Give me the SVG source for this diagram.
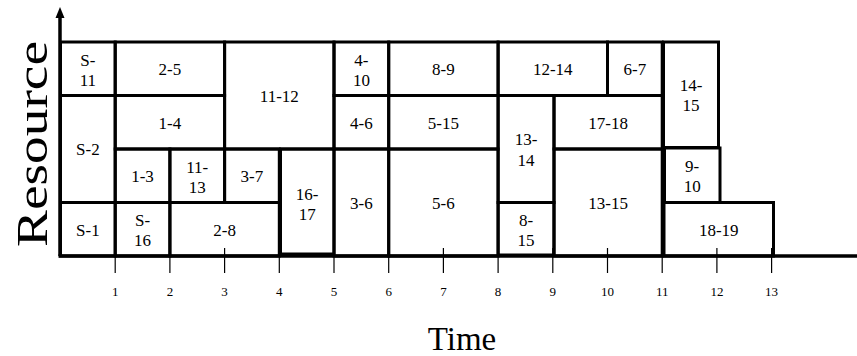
<svg xmlns="http://www.w3.org/2000/svg" width="857" height="356" viewBox="0 0 857 356" font-family="'Liberation Serif', serif">
<style>
.b{fill:none;stroke:#000;stroke-width:3}
.t{font-family:'Liberation Serif',serif;font-size:17px;text-anchor:middle;fill:#000}
.k{font-family:'Liberation Serif',serif;font-size:13px;text-anchor:middle;fill:#000}
.tk{stroke:#000;stroke-width:1.2}
.ax{stroke:#000;stroke-width:3.5;fill:none}
</style>
<rect width="857" height="356" fill="#fff"/>
<g id="nodes">
<g id="n-s11"><rect class="b" x="60.5" y="42" width="54.7" height="53.5"/><text class="t" x="87.9" y="66">S-</text><text class="t" x="87.9" y="86">11</text></g>
<g id="n-2-5"><rect class="b" x="115.2" y="42" width="109.4" height="53.5"/><text class="t" x="169.9" y="75">2-5</text></g>
<g id="n-11-12"><rect class="b" x="224.6" y="42" width="109.4" height="107"/><text class="t" x="279.3" y="101.5">11-12</text></g>
<g id="n-4-10"><rect class="b" x="334" y="42" width="54.7" height="53.5"/><text class="t" x="361.4" y="66">4-</text><text class="t" x="361.4" y="86">10</text></g>
<g id="n-8-9"><rect class="b" x="388.7" y="42" width="109.4" height="53.5"/><text class="t" x="443.4" y="75">8-9</text></g>
<g id="n-12-14"><rect class="b" x="498.1" y="42" width="109.4" height="53.5"/><text class="t" x="552.8" y="75">12-14</text></g>
<g id="n-6-7"><rect class="b" x="607.5" y="42" width="54.7" height="53.5"/><text class="t" x="634.9" y="75">6-7</text></g>
<g id="n-14-15"><rect class="b" x="663.5" y="42" width="55" height="105.5"/><text class="t" x="691" y="91">14-</text><text class="t" x="691" y="111">15</text></g>
<g id="n-s2"><rect class="b" x="60.5" y="95.5" width="54.7" height="107"/><text class="t" x="87.9" y="155">S-2</text></g>
<g id="n-1-4"><rect class="b" x="115.2" y="95.5" width="109.4" height="53.5"/><text class="t" x="169.9" y="128.5">1-4</text></g>
<g id="n-4-6"><rect class="b" x="334" y="95.5" width="54.7" height="53.5"/><text class="t" x="361.4" y="128.5">4-6</text></g>
<g id="n-5-15"><rect class="b" x="388.7" y="95.5" width="109.4" height="53.5"/><text class="t" x="443.4" y="128.5">5-15</text></g>
<g id="n-13-14"><rect class="b" x="498.1" y="95.5" width="55.9" height="107"/><text class="t" x="526" y="145">13-</text><text class="t" x="526" y="166">14</text></g>
<g id="n-17-18"><rect class="b" x="554" y="95.5" width="108.2" height="53.5"/><text class="t" x="608.1" y="128.5">17-18</text></g>
<g id="n-1-3"><rect class="b" x="115.2" y="149" width="54.7" height="53.5"/><text class="t" x="142.5" y="182">1-3</text></g>
<g id="n-11-13"><rect class="b" x="169.9" y="149" width="54.7" height="53.5"/><text class="t" x="197.2" y="172.5">11-</text><text class="t" x="197.2" y="192.5">13</text></g>
<g id="n-3-7"><rect class="b" x="224.6" y="149" width="54.7" height="53.5"/><text class="t" x="251.9" y="182">3-7</text></g>
<g id="n-16-17"><rect class="b" x="280.5" y="149" width="53.5" height="105"/><text class="t" x="307.2" y="199.5">16-</text><text class="t" x="307.2" y="220">17</text></g>
<g id="n-3-6"><rect class="b" x="334" y="149" width="54.7" height="107"/><text class="t" x="361.4" y="208.5">3-6</text></g>
<g id="n-5-6"><rect class="b" x="388.7" y="149" width="109.4" height="107"/><text class="t" x="443.4" y="208.5">5-6</text></g>
<g id="n-13-15"><rect class="b" x="554" y="149" width="108.2" height="107"/><text class="t" x="608.1" y="208.5">13-15</text></g>
<g id="n-9-10"><rect class="b" x="664.5" y="148" width="55.5" height="54.5"/><text class="t" x="692.2" y="172">9-</text><text class="t" x="692.2" y="192">10</text></g>
<g id="n-s1"><rect class="b" x="60.5" y="202.5" width="54.7" height="53.5"/><text class="t" x="87.9" y="235.5">S-1</text></g>
<g id="n-s16"><rect class="b" x="115.2" y="202.5" width="54.7" height="53.5"/><text class="t" x="142.5" y="226">S-</text><text class="t" x="142.5" y="246">16</text></g>
<g id="n-2-8"><rect class="b" x="169.9" y="202.5" width="109.4" height="53.5"/><text class="t" x="224.6" y="235.5">2-8</text></g>
<g id="n-8-15"><rect class="b" x="498.1" y="202.5" width="55.9" height="52.5"/><text class="t" x="526" y="225.5">8-</text><text class="t" x="526" y="245.5">15</text></g>
<g id="n-18-19"><rect class="b" x="664" y="202.5" width="109.5" height="53.5"/><text class="t" x="718.8" y="235.5">18-19</text></g>
</g>
<g id="connectors">
<line class="ax" x1="60" y1="256" x2="60" y2="16"/>
<polygon points="55.5,18 60,7 64.5,18" fill="#000"/>
<line class="ax" x1="58.5" y1="256" x2="857" y2="256"/>
<line class="tk" x1="115.2" y1="248" x2="115.2" y2="273"/>
<line class="tk" x1="169.9" y1="248" x2="169.9" y2="273"/>
<line class="tk" x1="224.6" y1="248" x2="224.6" y2="273"/>
<line class="tk" x1="279.3" y1="248" x2="279.3" y2="273"/>
<line class="tk" x1="334" y1="248" x2="334" y2="273"/>
<line class="tk" x1="388.7" y1="248" x2="388.7" y2="273"/>
<line class="tk" x1="443.4" y1="248" x2="443.4" y2="273"/>
<line class="tk" x1="498.1" y1="248" x2="498.1" y2="273"/>
<line class="tk" x1="552.8" y1="248" x2="552.8" y2="273"/>
<line class="tk" x1="607.5" y1="248" x2="607.5" y2="273"/>
<line class="tk" x1="662.2" y1="248" x2="662.2" y2="273"/>
<line class="tk" x1="716.9" y1="248" x2="716.9" y2="273"/>
<line class="tk" x1="771.6" y1="248" x2="771.6" y2="273"/>
</g>
<g id="labels">
<text class="k" x="115.2" y="296">1</text>
<text class="k" x="169.9" y="296">2</text>
<text class="k" x="224.6" y="296">3</text>
<text class="k" x="279.3" y="296">4</text>
<text class="k" x="334" y="296">5</text>
<text class="k" x="388.7" y="296">6</text>
<text class="k" x="443.4" y="296">7</text>
<text class="k" x="498.1" y="296">8</text>
<text class="k" x="552.8" y="296">9</text>
<text class="k" x="607.5" y="296">10</text>
<text class="k" x="662.2" y="296">11</text>
<text class="k" x="716.9" y="296">12</text>
<text class="k" x="771.6" y="296">13</text>
<text x="462" y="350" style="font-family:'Liberation Serif',serif;font-size:33px;text-anchor:middle">Time</text>
<text transform="translate(47,144) rotate(-90)" textLength="206" lengthAdjust="spacingAndGlyphs" style="font-family:'Liberation Serif',serif;font-size:44px;text-anchor:middle">Resource</text>
</g>
</svg>
